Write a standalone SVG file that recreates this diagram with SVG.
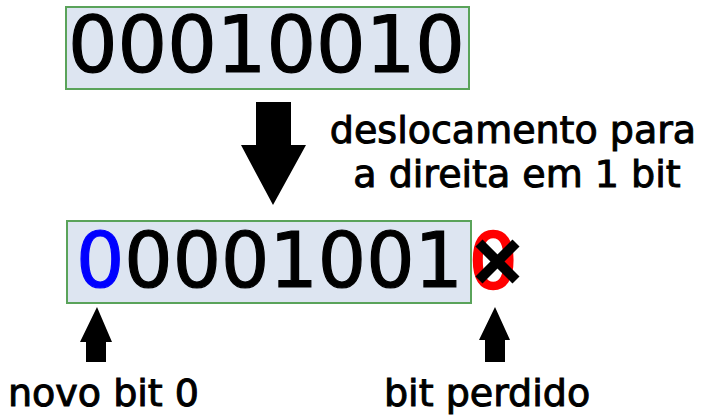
<svg xmlns="http://www.w3.org/2000/svg" width="702" height="416" viewBox="0 0 702 416">
  <style>
    .reg { fill: #dde5f1; stroke: #5aa35a; stroke-width: 2; }
    .bits { font-family: "DejaVu Sans", Verdana, sans-serif; fill: #000; stroke: #000; stroke-width: 1.2; }
    .label { font-family: "DejaVu Sans", Verdana, sans-serif; font-size: 38px; fill: #000; stroke: #000; stroke-width: 1; }
    .arrow { fill: #000; }
  </style>
  <rect width="702" height="416" fill="#fff"/>

  <!-- original register value -->
  <g id="reg-before">
    <rect class="reg" x="66" y="7" width="403" height="82"/>
    <text class="bits" x="68" y="72" font-size="78" textLength="397" lengthAdjust="spacingAndGlyphs">00010010</text>
  </g>

  <!-- shift description -->
  <g id="shift-label">
    <text class="label" x="513" y="143" text-anchor="middle">deslocamento para</text>
    <text class="label" x="517" y="187" text-anchor="middle">a direita em 1 bit</text>
  </g>

  <!-- register after shifting -->
  <g id="reg-after">
    <rect class="reg" x="67" y="221" width="404" height="82"/>
    <text class="bits" x="76" y="287" font-size="76"><tspan fill="#0000ff" stroke="#0000ff">0</tspan>0001001</text>
  </g>

  <!-- discarded bit -->
  <g id="lost-bit">
    <text x="469" y="288" font-family="DejaVu Sans, Verdana, sans-serif" font-size="76" fill="#ff0000" stroke="#ff0000" stroke-width="2.5">0</text>
    <line x1="479" y1="243" x2="516" y2="280" stroke="#000" stroke-width="10"/>
    <line x1="516" y1="243" x2="479" y2="280" stroke="#000" stroke-width="10"/>
  </g>

  <g id="connectors">
    <!-- shift arrow -->
    <polygon class="arrow" points="256,102 291,102 291,145 306,145 273,205 241,145 256,145"/>
    <!-- pointer to new bit -->
    <polygon class="arrow" points="97,307 112,342 106,342 106,362 86,362 86,342 80,342"/>
    <!-- pointer to lost bit -->
    <polygon class="arrow" points="495,307 510,340 505,340 505,362 485,362 485,340 479,340"/>
  </g>

  <g id="new-bit-label">
    <text class="label" x="8" y="406">novo bit 0</text>
  </g>
  <g id="lost-bit-label">
    <text class="label" x="384" y="406">bit perdido</text>
  </g>
</svg>
